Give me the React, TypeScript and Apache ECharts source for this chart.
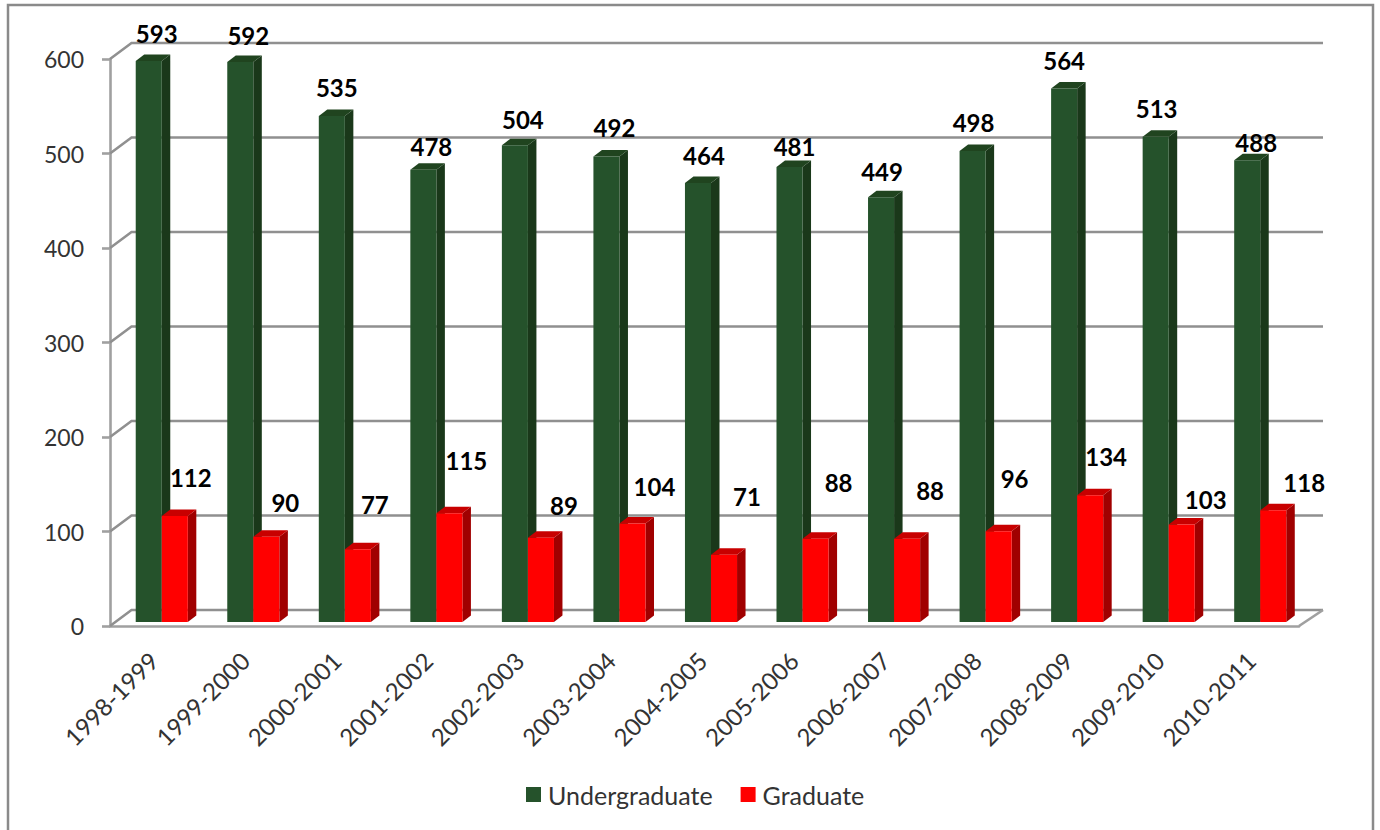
import React, { useEffect, useRef } from "react";
import * as echarts from "echarts";

const categories = ["1998-1999","1999-2000","2000-2001","2001-2002","2002-2003","2003-2004","2004-2005","2005-2006","2006-2007","2007-2008","2008-2009","2009-2010","2010-2011"];
const undergraduate = [593,592,535,478,504,492,464,481,449,498,564,513,488];
const graduate = [112,90,77,115,89,104,71,88,88,96,134,103,118];
const yTicks = [0,100,200,300,400,500,600];

// hand-placed label offsets from each bar's top centre, as in the reference
const ugLabelDx = [8,8,5,8,8,8,6,5,1,1,0,1,9];
const ugLabelDy = [-28,-26,-28,-23,-26,-29,-28,-20,-26,-28,-28,-28,-18];
const gLabelDx = [16,19,17,17,23,22,23,23,23,16,16,24,31];
const gLabelDy = [-39,-34,-45,-53,-32,-37,-58,-56,-48,-53,-39,-25,-28];

const FONT = "Lato";
const AXIS_GRAY = "#a0a0a0";
const WALL_GRAY = "#909090";

function barRenderer(side: number, face: string, top: string, dark: string, dx: number[], dy: number[]) {
  return (params: any, api: any) => {
    const i = api.value(0);
    const v = api.value(1);
    const t = api.coord([i, v]);
    const b = api.coord([i, 0]);
    const w = api.size([1, 0])[0] * 0.2845;
    const x0 = t[0] + (side < 0 ? -w : 0);
    const x1 = x0 + w;
    const dpx = 8.5, dpy = -6.5;
    return {
      type: "group",
      children: [
        { type: "polygon", shape: { points: [[x1, t[1]], [x1 + dpx, t[1] + dpy], [x1 + dpx, b[1] + dpy], [x1, b[1]]] }, style: { fill: dark } },
        { type: "polygon", shape: { points: [[x0, t[1]], [x0 + dpx, t[1] + dpy], [x1 + dpx, t[1] + dpy], [x1, t[1]]] }, style: { fill: top } },
        { type: "rect", shape: { x: x0, y: t[1], width: w, height: b[1] - t[1] }, style: { fill: face } },
        {
          type: "text",
          z2: 50,
          style: {
            text: String(v),
            x: (x0 + x1) / 2 + dx[params.dataIndex],
            y: t[1] + dy[params.dataIndex],
            align: "center",
            verticalAlign: "middle",
            fill: "#000",
            font: `bold 24px ${FONT}`,
          },
        },
      ],
    };
  };
}

function wallRenderer(params: any, api: any) {
  const v = api.value(1);
  const y = api.coord([0, v])[1];
  const cs = params.coordSys;
  const left = cs.x;
  const right = cs.x + cs.width;
  const children: any[] = [
    {
      type: "polyline",
      shape: { points: [[left, y], [left + 21.5, y - 16], [right + 24, y - 16]] },
      style: { stroke: WALL_GRAY, lineWidth: 2.6, fill: "none" },
    },
  ];
  if (v === 0) {
    children.push({
      type: "line",
      shape: { x1: right, y1: y, x2: right + 24, y2: y - 16 },
      style: { stroke: AXIS_GRAY, lineWidth: 2.6 },
    });
  }
  return { type: "group", children };
}

export default function App() {
  const ref = useRef<HTMLDivElement>(null);
  useEffect(() => {
    document.body.style.margin = "0";
    const chart = echarts.init(ref.current!, undefined, { renderer: "svg" });
    chart.setOption({
      animation: false,
      backgroundColor: "#fff",
      textStyle: { fontFamily: FONT },
      graphic: [
        {
          type: "polyline",
          shape: { points: [[8, 830], [8, 5], [1373, 5], [1373, 830]] },
          style: { stroke: "#8a8a8a", lineWidth: 2.5, fill: "none" },
        },
      ],
      legend: {
        left: 521,
        top: 777,
        itemWidth: 15,
        itemHeight: 15,
        itemGap: 28,
        icon: "rect",
        data: ["Undergraduate", "Graduate"],
        textStyle: { fontFamily: FONT, fontSize: 25, color: "#333", padding: [0, 0, 0, 2] },
      },
      grid: [
        { left: 110, width: 1189, top: 59, height: 567 },
        { left: 116, width: 1190, top: 54.4, height: 567.6 },
      ],
      xAxis: [
        {
          type: "category",
          gridIndex: 0,
          data: categories,
          axisLine: { lineStyle: { color: AXIS_GRAY, width: 2.6 } },
          axisTick: { length: 9, lineStyle: { color: AXIS_GRAY, width: 2.6 } },
          axisLabel: { rotate: 45, interval: 0, margin: 28, padding: [0, 3, 0, 0], fontFamily: FONT, fontSize: 24, color: "#333" },
        },
        { type: "category", gridIndex: 1, data: categories, show: false },
      ],
      yAxis: [
        {
          type: "value",
          gridIndex: 0,
          min: 0,
          max: 600,
          interval: 100,
          splitLine: { show: false },
          axisLine: { show: true, lineStyle: { color: AXIS_GRAY, width: 2.6 } },
          axisTick: { show: true, length: 8, lineStyle: { color: AXIS_GRAY, width: 2.6 } },
          axisLabel: { margin: 26, fontFamily: FONT, fontSize: 23, color: "#333" },
        },
        { type: "value", gridIndex: 1, min: 0, max: 600, interval: 100, show: false, splitLine: { show: false } },
      ],
      series: [
        {
          type: "custom",
          name: "wall",
          xAxisIndex: 0,
          yAxisIndex: 0,
          z: 1,
          silent: true,
          encode: { x: 0, y: 1 },
          data: yTicks.map((v) => [0, v]),
          renderItem: wallRenderer,
        },
        {
          type: "custom",
          name: "Undergraduate",
          xAxisIndex: 1,
          yAxisIndex: 1,
          z: 3,
          itemStyle: { color: "#25522B" },
          encode: { x: 0, y: 1 },
          data: undergraduate.map((v, i) => [i, v]),
          renderItem: barRenderer(-1, "#25522B", "#20441F", "#1A381A", ugLabelDx, ugLabelDy),
        },
        {
          type: "custom",
          name: "Graduate",
          xAxisIndex: 1,
          yAxisIndex: 1,
          z: 4,
          itemStyle: { color: "#FF0000" },
          encode: { x: 0, y: 1 },
          data: graduate.map((v, i) => [i, v]),
          renderItem: barRenderer(1, "#FF0000", "#C80000", "#A00000", gLabelDx, gLabelDy),
        },
      ],
    });
    return () => chart.dispose();
  }, []);
  return <div ref={ref} style={{ position: "absolute", left: 0, top: 0, width: 1380, height: 830 }} />;
}
